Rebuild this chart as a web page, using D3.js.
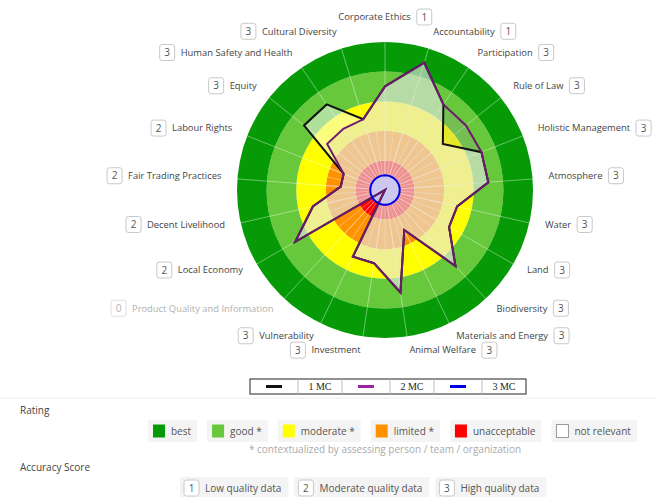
<!DOCTYPE html>
<html lang="en">
<head>
<meta charset="utf-8">
<title>SAFA polygon</title>
<script src="https://d3js.org/d3.v7.min.js"></script>
<style>
  body { margin: 0; background: #fff; }
  svg text { font-family: "Open Sans", sans-serif; }
</style>
</head>
<body>
<script>
// themes clockwise from the top
var themes = ["Corporate Ethics", "Accountability", "Participation", "Rule of Law",
  "Holistic Management", "Atmosphere", "Water", "Land", "Biodiversity",
  "Materials and Energy", "Animal Welfare", "Investment", "Vulnerability",
  "Product Quality and Information", "Local Economy", "Decent Livelihood",
  "Fair Trading Practices", "Labour Rights", "Equity", "Human Safety and Health",
  "Cultural Diversity"];
var accuracy = [1, 1, 3, 3, 3, 3, 3, 3, 3, 3, 3, 3, 3, 0, 2, 2, 2, 2, 3, 3, 3];

// ratings per theme (0..5), one list per MC
var mc1 = [3.5, 4.5, 3.5, 2.5, 3.5, 3.5, 2.5, 2.5, 3.5, 1.5, 3.5, 2.5, 2.5, 0, 3.5, 2.5, 1.5, 1.5, 3.5, 3.5, 2.5];
var mc2 = [3.5, 4.5, 3.5, 3.5, 3.5, 3.5, 2.5, 2.5, 3.5, 1.5, 3.5, 2.5, 2.5, 0, 3.5, 2.5, 1.5, 1.5, 2.5, 2.5, 2.5];
var mc3 = [0.5, 0.5, 0.5, 0.5, 0.5, 0.5, 0.5, 0.5, 0.5, 0.5, 0.5, 0.5, 0.5, 0.5, 0.5, 0.5, 0.5, 0.5, 0.5, 0.5, 0.5];
var seriesNames = ["1 MC", "2 MC", "3 MC"];

// rating bands, inner to outer
var bandNames = ["unacceptable", "limited *", "moderate *", "good *", "best"];
var ratingNames = ["best", "good *", "moderate *", "limited *", "unacceptable", "not relevant"];
var accuracyNames = ["Low quality data", "Moderate quality data", "High quality data"];

var w = 657, h = 497;
var cx = 385, cy = 190, R = 148;
var bandColors = ["#ff0000", "#ff9200", "#ffff00", "#66c83a", "#069a06"];
var ratingColors = ["#069a06", "#66c83a", "#ffff00", "#ff9200", "#ff0000", "#ffffff"];
var lineColors = ["#111111", "#6e1a6e", "#0000e6"];

var svg = d3.select("body").append("svg")
  .attr("width", w).attr("height", h);

var rScale = d3.scaleLinear().domain([0, 5]).range([0, R]);
var aScale = d3.scaleLinear().domain([0, themes.length]).range([0, 2 * Math.PI]);

var chart = svg.append("g").attr("transform", "translate(" + cx + "," + cy + ")");

// coloured rings
chart.selectAll("path.band")
  .data(bandNames)
  .enter().append("path")
  .attr("class", "band")
  .attr("d", function(d, i) {
    return d3.arc()({innerRadius: rScale(i), outerRadius: rScale(i + 1), startAngle: 0, endAngle: 2 * Math.PI});
  })
  .attr("fill", function(d, i) { return bandColors[i]; });

// spokes: dense ones in the centre, theme ones all the way out
chart.selectAll("line.fine")
  .data(d3.range(themes.length * 2))
  .enter().append("line")
  .attr("x1", 0).attr("y1", 0)
  .attr("x2", function(d) { return rScale(2) * Math.sin(aScale(d / 2)); })
  .attr("y2", function(d) { return -rScale(2) * Math.cos(aScale(d / 2)); })
  .attr("stroke", "#fff").attr("stroke-opacity", 0.35).attr("stroke-width", 1);

chart.selectAll("line.spoke")
  .data(themes)
  .enter().append("line")
  .attr("x1", 0).attr("y1", 0)
  .attr("x2", function(d, i) { return R * Math.sin(aScale(i)); })
  .attr("y2", function(d, i) { return -R * Math.cos(aScale(i)); })
  .attr("stroke", "#fff").attr("stroke-opacity", 0.4).attr("stroke-width", 1);

var radial = d3.lineRadial()
  .angle(function(d, i) { return aScale(i); })
  .radius(function(d) { return rScale(d); })
  .curve(d3.curveLinearClosed);

// fills
chart.append("path").attr("d", radial(mc2))
  .attr("fill", "rgb(160,160,160)").attr("fill-opacity", 0.25);
chart.append("path").attr("d", radial(mc1))
  .attr("fill", "rgb(248,248,248)").attr("fill-opacity", 0.5);
chart.append("path").attr("d", radial(mc3))
  .attr("fill", "#c9c9f2").attr("fill-opacity", 0.95);

// outlines
[mc1, mc2, mc3].forEach(function(s, i) {
  chart.append("path").attr("d", radial(s))
    .attr("fill", "none")
    .attr("stroke", lineColors[i])
    .attr("stroke-width", 2)
    .attr("stroke-linejoin", "miter");
});

// theme labels with accuracy boxes
var labelR = 164;
themes.forEach(function(name, i) {
  var a = aScale(i);
  var ax = cx + labelR * Math.sin(a);
  var ay = cy - labelR * Math.cos(a) - 2;
  if (i === 0) ay -= 7;
  var grey = accuracy[i] === 0;
  var g = svg.append("g");
  var t = g.append("text")
    .attr("y", ay).attr("dy", "0.35em")
    .attr("font-size", "9.4px")
    .attr("fill", grey ? "#b0b0b0" : "#444")
    .text(name);
  var tw = t.node().getComputedTextLength();
  var bx;
  if (i === 0) {
    var total = tw + 6 + 15;
    t.attr("x", ax - total / 2);
    bx = ax - total / 2 + tw + 6;
  } else if (Math.sin(a) > 0) {
    t.attr("x", ax);
    bx = ax + tw + 6;
  } else {
    t.attr("x", ax).attr("text-anchor", "end");
    bx = ax - tw - 6 - 15;
  }
  g.append("rect")
    .attr("x", bx).attr("y", ay - 8).attr("width", 15).attr("height", 16)
    .attr("rx", 2.5)
    .attr("fill", "#fff").attr("stroke", grey ? "#dddddd" : "#c8c8c8");
  g.append("text")
    .attr("x", bx + 7.5).attr("y", ay).attr("dy", "0.35em")
    .attr("text-anchor", "middle").attr("font-size", "10px")
    .attr("fill", grey ? "#b0b0b0" : "#555")
    .text(accuracy[i]);
});

// MC legend table
var tx = 250, ty = 379, th = 15, lineCell = 48, textCell = 44;
var table = svg.append("g");
table.append("rect").attr("x", tx).attr("y", ty)
  .attr("width", 3 * (lineCell + textCell)).attr("height", th)
  .attr("fill", "#fff").attr("stroke", "#222").attr("stroke-width", 1);
seriesNames.forEach(function(name, i) {
  var x0 = tx + i * (lineCell + textCell);
  if (i > 0) {
    table.append("line").attr("x1", x0).attr("x2", x0)
      .attr("y1", ty).attr("y2", ty + th).attr("stroke", "#bbb");
  }
  table.append("line").attr("x1", x0 + lineCell).attr("x2", x0 + lineCell)
    .attr("y1", ty).attr("y2", ty + th).attr("stroke", "#bbb");
  table.append("line")
    .attr("x1", x0 + lineCell / 2 - 8).attr("x2", x0 + lineCell / 2 + 8)
    .attr("y1", ty + th / 2).attr("y2", ty + th / 2)
    .attr("stroke", i === 1 ? "#a020a0" : lineColors[i]).attr("stroke-width", 3);
  table.append("text")
    .attr("x", x0 + lineCell + textCell / 2).attr("y", ty + th / 2).attr("dy", "0.35em")
    .attr("text-anchor", "middle")
    .style("font-family", "'Liberation Serif', serif").attr("font-size", "10px")
    .attr("fill", "#222")
    .text(name);
});

// separator
svg.append("line").attr("x1", 0).attr("x2", w).attr("y1", 398).attr("y2", 398)
  .attr("stroke", "#ececec");

svg.append("text").attr("x", 20).attr("y", 410).attr("dy", "0.35em")
  .attr("font-size", "10px").attr("fill", "#444").text("Rating");

// rating legend
var lx = 148;
ratingNames.forEach(function(name, i) {
  var g = svg.append("g");
  var bg = g.append("rect").attr("x", lx).attr("y", 420).attr("height", 22).attr("fill", "#f4f4f4");
  g.append("rect").attr("x", lx + 5).attr("y", 424.5).attr("width", 12).attr("height", 13)
    .attr("fill", ratingColors[i])
    .attr("stroke", i === 5 ? "#999" : "none");
  var t = g.append("text").attr("x", lx + 23).attr("y", 431).attr("dy", "0.35em")
    .attr("font-size", "10px").attr("fill", "#555").text(name);
  var bw = 23 + t.node().getComputedTextLength() + 6;
  bg.attr("width", bw);
  lx += bw + 10;
});

svg.append("text").attr("x", 385).attr("y", 449).attr("dy", "0.35em")
  .attr("text-anchor", "middle").attr("font-size", "10px").attr("fill", "#aaa")
  .text("* contextualized by assessing person / team / organization");

svg.append("text").attr("x", 20).attr("y", 467).attr("dy", "0.35em")
  .attr("font-size", "10px").attr("fill", "#444").text("Accuracy Score");

// accuracy legend
var ax2 = 180;
accuracyNames.forEach(function(name, i) {
  var g = svg.append("g");
  var bg = g.append("rect").attr("x", ax2).attr("y", 477).attr("height", 22).attr("fill", "#f4f4f4");
  g.append("rect").attr("x", ax2 + 4).attr("y", 480).attr("width", 15).attr("height", 16)
    .attr("rx", 2.5).attr("fill", "#fff").attr("stroke", "#c8c8c8");
  g.append("text").attr("x", ax2 + 11.5).attr("y", 488).attr("dy", "0.35em")
    .attr("text-anchor", "middle").attr("font-size", "10px").attr("fill", "#555").text(i + 1);
  var t = g.append("text").attr("x", ax2 + 25).attr("y", 488).attr("dy", "0.35em")
    .attr("font-size", "10px").attr("fill", "#555").text(name);
  var bw = 25 + t.node().getComputedTextLength() + 7;
  bg.attr("width", bw);
  ax2 += bw + 6;
});
</script>
</body>
</html>
